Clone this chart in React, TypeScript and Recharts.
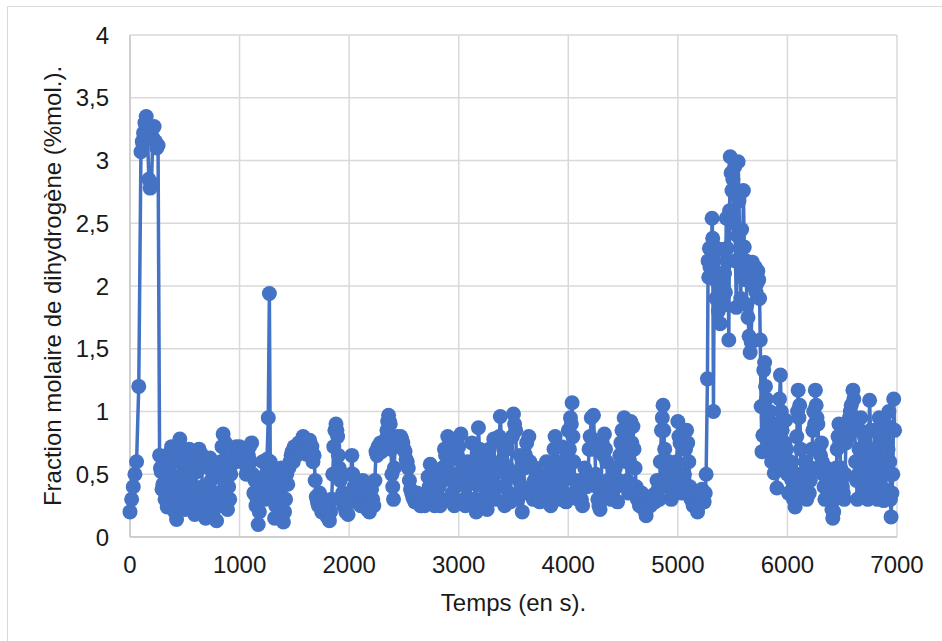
import { LineChart, Line, XAxis, YAxis, CartesianGrid } from 'recharts'

// [time in s, H2 fraction in %mol], one array per stretch of the run
const startup: [number, number][] = [
  [0, 0.2], [15, 0.3], [30, 0.4], [45, 0.5], [60, 0.6], [80, 1.2], [100, 3.07], [112, 3.15],
  [124, 3.22], [136, 3.3], [148, 3.35], [160, 3.2], [172, 2.85], [184, 2.78], [196, 2.82],
  [208, 3.18], [220, 3.27], [232, 3.15], [244, 3.1], [256, 3.12],
]

const seg1: [number, number][] = [
  [270, 0.65], [278, 0.55], [285, 0.52], [292, 0.38], [300, 0.42], [310, 0.6], [320, 0.3],
  [330, 0.45], [340, 0.24], [350, 0.35], [360, 0.55], [370, 0.68], [380, 0.72], [388, 0.6],
  [395, 0.45], [402, 0.3], [410, 0.2], [418, 0.38], [425, 0.14], [432, 0.3], [440, 0.48],
  [448, 0.65], [455, 0.78], [462, 0.7], [470, 0.6], [480, 0.45], [490, 0.35], [500, 0.22],
  [510, 0.3], [520, 0.55], [530, 0.45], [540, 0.7], [550, 0.62], [560, 0.4], [570, 0.3],
  [580, 0.25], [590, 0.18], [600, 0.35], [610, 0.52], [620, 0.6], [630, 0.7], [640, 0.55],
  [650, 0.66], [660, 0.4], [670, 0.26], [680, 0.2], [690, 0.15], [700, 0.3], [710, 0.4],
  [720, 0.55], [730, 0.63], [740, 0.45], [750, 0.55], [760, 0.35], [770, 0.22], [780, 0.3],
  [790, 0.13], [800, 0.25], [810, 0.35], [820, 0.5], [830, 0.6], [840, 0.72], [850, 0.82],
  [860, 0.6], [870, 0.75], [880, 0.45], [890, 0.22], [900, 0.4], [910, 0.3], [920, 0.5],
  [930, 0.58], [940, 0.7], [950, 0.68], [960, 0.6], [970, 0.72], [980, 0.7], [990, 0.65],
]

const seg2: [number, number][] = [
  [1000, 0.72], [1010, 0.7], [1020, 0.6], [1030, 0.62], [1040, 0.7], [1050, 0.68], [1060, 0.5],
  [1070, 0.55], [1080, 0.65], [1090, 0.72], [1100, 0.6], [1110, 0.75], [1120, 0.5], [1130, 0.35],
  [1140, 0.45], [1150, 0.25], [1160, 0.3], [1170, 0.1], [1180, 0.2], [1190, 0.4], [1200, 0.32],
  [1210, 0.6], [1220, 0.45], [1230, 0.3], [1240, 0.5], [1250, 0.62], [1262, 0.95], [1272, 1.94],
  [1280, 0.6], [1285, 0.5], [1292, 0.4], [1300, 0.3], [1310, 0.45], [1320, 0.15], [1330, 0.25],
  [1340, 0.45], [1350, 0.35], [1360, 0.28], [1370, 0.42], [1380, 0.55], [1390, 0.3], [1400, 0.12],
  [1410, 0.2], [1420, 0.3], [1430, 0.5], [1440, 0.42], [1450, 0.55], [1460, 0.6], [1470, 0.65],
  [1480, 0.68], [1490, 0.6], [1500, 0.72], [1510, 0.7], [1520, 0.65], [1530, 0.72], [1540, 0.75],
  [1550, 0.68], [1560, 0.7], [1570, 0.76], [1580, 0.8], [1590, 0.75], [1600, 0.73], [1610, 0.66],
  [1620, 0.68], [1630, 0.72], [1640, 0.77], [1650, 0.7], [1660, 0.72], [1670, 0.6], [1680, 0.65],
  [1690, 0.45], [1700, 0.32], [1710, 0.28], [1720, 0.25], [1730, 0.35], [1740, 0.3], [1750, 0.2],
  [1760, 0.22], [1770, 0.3], [1780, 0.28], [1790, 0.2], [1800, 0.16], [1810, 0.25], [1820, 0.13],
  [1830, 0.2], [1840, 0.3], [1850, 0.5], [1860, 0.72], [1870, 0.85], [1880, 0.9], [1888, 0.85],
  [1895, 0.8], [1902, 0.65], [1910, 0.55], [1920, 0.45], [1930, 0.3], [1940, 0.35], [1950, 0.25],
  [1960, 0.3], [1970, 0.2], [1980, 0.28], [1990, 0.18],
]

const seg3: [number, number][] = [
  [2000, 0.3], [2010, 0.35], [2018, 0.5], [2025, 0.65], [2035, 0.5], [2045, 0.4], [2055, 0.32],
  [2065, 0.28], [2075, 0.4], [2085, 0.35], [2095, 0.3], [2105, 0.25], [2115, 0.35], [2125, 0.45],
  [2135, 0.38], [2145, 0.3], [2155, 0.28], [2165, 0.22], [2175, 0.3], [2185, 0.2], [2195, 0.28],
  [2205, 0.38], [2215, 0.3], [2225, 0.25], [2235, 0.45], [2245, 0.68], [2255, 0.65], [2265, 0.72],
  [2275, 0.7], [2285, 0.75], [2295, 0.68], [2305, 0.7], [2315, 0.75], [2325, 0.72], [2335, 0.78],
  [2345, 0.85], [2352, 0.92], [2360, 0.97], [2368, 0.92], [2375, 0.9], [2382, 0.7], [2390, 0.5],
  [2398, 0.4], [2405, 0.3], [2412, 0.55], [2420, 0.75], [2430, 0.72], [2440, 0.8], [2450, 0.75],
  [2460, 0.72], [2470, 0.8], [2480, 0.78], [2490, 0.75], [2500, 0.7], [2510, 0.68], [2520, 0.62],
  [2530, 0.6], [2540, 0.55], [2550, 0.45], [2560, 0.38], [2570, 0.35], [2580, 0.32], [2590, 0.3],
  [2600, 0.28], [2610, 0.3], [2620, 0.35], [2630, 0.28], [2640, 0.3], [2650, 0.25], [2660, 0.25],
  [2670, 0.3], [2680, 0.32], [2690, 0.25], [2700, 0.27], [2710, 0.35], [2720, 0.48], [2730, 0.4],
  [2740, 0.58], [2750, 0.45], [2760, 0.3], [2770, 0.35], [2780, 0.25], [2790, 0.3], [2800, 0.35],
  [2810, 0.5], [2820, 0.4], [2830, 0.25], [2840, 0.3], [2850, 0.55], [2860, 0.45], [2870, 0.7],
  [2880, 0.65], [2890, 0.5], [2900, 0.8], [2910, 0.6], [2920, 0.75], [2930, 0.5], [2940, 0.35],
  [2950, 0.3], [2960, 0.25], [2970, 0.4], [2980, 0.5], [2990, 0.65],
]

const seg4: [number, number][] = [
  [3000, 0.72], [3010, 0.5], [3020, 0.82], [3030, 0.6], [3040, 0.45], [3050, 0.3], [3060, 0.25],
  [3070, 0.4], [3080, 0.6], [3090, 0.45], [3100, 0.3], [3110, 0.5], [3120, 0.75], [3130, 0.6],
  [3140, 0.5], [3150, 0.3], [3160, 0.2], [3170, 0.6], [3180, 0.87], [3190, 0.7], [3200, 0.65],
  [3210, 0.45], [3220, 0.3], [3230, 0.4], [3240, 0.55], [3250, 0.35], [3260, 0.22], [3270, 0.45],
  [3280, 0.7], [3290, 0.55], [3300, 0.4], [3310, 0.6], [3320, 0.78], [3330, 0.5], [3340, 0.3],
  [3350, 0.4], [3360, 0.55], [3370, 0.8], [3380, 0.96], [3390, 0.75], [3400, 0.6], [3410, 0.4],
  [3420, 0.25], [3430, 0.5], [3440, 0.7], [3450, 0.55], [3460, 0.35], [3470, 0.28], [3480, 0.5],
  [3490, 0.8], [3500, 0.98], [3510, 0.9], [3520, 0.85], [3530, 0.5], [3540, 0.3], [3550, 0.45],
  [3560, 0.65], [3570, 0.4], [3580, 0.2], [3590, 0.35], [3600, 0.55], [3610, 0.65], [3620, 0.75],
  [3630, 0.6], [3640, 0.8], [3650, 0.6], [3660, 0.4], [3670, 0.35], [3680, 0.3], [3690, 0.45],
  [3700, 0.55], [3710, 0.4], [3720, 0.35], [3730, 0.3], [3740, 0.28], [3750, 0.35], [3760, 0.45],
  [3770, 0.38], [3780, 0.3], [3790, 0.4], [3800, 0.6], [3810, 0.5], [3820, 0.38], [3830, 0.3],
  [3840, 0.25], [3850, 0.4], [3860, 0.55], [3870, 0.7], [3880, 0.8], [3890, 0.6], [3900, 0.5],
  [3910, 0.4], [3920, 0.3], [3930, 0.5], [3940, 0.72], [3950, 0.6], [3960, 0.45], [3970, 0.35],
  [3980, 0.28], [3990, 0.5],
]

const seg5: [number, number][] = [
  [4000, 0.85], [4010, 0.7], [4020, 0.95], [4028, 0.9], [4035, 1.07], [4042, 0.8], [4050, 0.6],
  [4060, 0.45], [4070, 0.35], [4080, 0.4], [4090, 0.3], [4100, 0.35], [4110, 0.45], [4120, 0.3],
  [4130, 0.25], [4140, 0.4], [4150, 0.55], [4160, 0.45], [4170, 0.4], [4180, 0.5], [4190, 0.7],
  [4200, 0.8], [4210, 0.95], [4220, 0.7], [4230, 0.97], [4240, 0.75], [4250, 0.5], [4260, 0.4],
  [4270, 0.3], [4280, 0.25], [4290, 0.22], [4300, 0.4], [4310, 0.75], [4320, 0.65], [4330, 0.82],
  [4340, 0.7], [4350, 0.6], [4360, 0.45], [4370, 0.35], [4380, 0.4], [4390, 0.3], [4400, 0.35],
  [4410, 0.42], [4420, 0.5], [4430, 0.55], [4440, 0.4], [4450, 0.28], [4460, 0.45], [4470, 0.65],
  [4480, 0.75], [4490, 0.85], [4500, 0.7], [4510, 0.95], [4520, 0.8], [4530, 0.6], [4540, 0.45],
  [4550, 0.35], [4560, 0.6], [4570, 0.92], [4580, 0.75], [4590, 0.88], [4600, 0.7], [4610, 0.55],
  [4620, 0.4], [4630, 0.3], [4640, 0.35], [4650, 0.25], [4660, 0.3], [4670, 0.35], [4680, 0.28],
  [4690, 0.22], [4700, 0.25], [4710, 0.17], [4720, 0.25], [4730, 0.3], [4740, 0.28], [4750, 0.25],
  [4760, 0.3], [4770, 0.33], [4780, 0.3], [4790, 0.28], [4800, 0.35], [4810, 0.45], [4820, 0.38],
  [4830, 0.3], [4840, 0.6], [4850, 0.85], [4858, 0.95], [4865, 1.05], [4872, 0.85], [4880, 0.7],
  [4890, 0.55], [4900, 0.4], [4910, 0.5], [4920, 0.6], [4930, 0.45], [4940, 0.3], [4950, 0.35],
  [4960, 0.5], [4970, 0.4], [4980, 0.35], [4990, 0.6],
]

const seg6: [number, number][] = [
  [5000, 0.92], [5010, 0.8], [5020, 0.75], [5030, 0.5], [5040, 0.35], [5050, 0.4], [5060, 0.5],
  [5070, 0.7], [5080, 0.85], [5090, 0.75], [5100, 0.6], [5110, 0.4], [5120, 0.3], [5130, 0.35],
  [5140, 0.25], [5150, 0.3], [5160, 0.35], [5170, 0.28], [5180, 0.2], [5190, 0.25], [5200, 0.3],
  [5210, 0.35], [5220, 0.38], [5230, 0.32], [5240, 0.28], [5250, 0.35], [5258, 0.5], [5270, 1.26],
  [5276, 2.2], [5282, 2.07], [5288, 2.3], [5294, 2.15], [5300, 2.29], [5306, 2.1], [5312, 2.54],
  [5318, 2.38], [5325, 1.0], [5332, 2.2], [5340, 2.05], [5348, 1.9], [5355, 2.3], [5362, 2.05],
  [5370, 1.8], [5378, 2.1], [5386, 1.7], [5394, 1.95], [5402, 2.0], [5410, 2.29], [5418, 1.85],
  [5426, 2.1], [5434, 1.95], [5442, 2.54], [5450, 2.3], [5458, 2.2], [5465, 1.57], [5472, 2.6],
  [5478, 3.03], [5486, 2.9], [5494, 2.76], [5502, 2.85], [5510, 2.5], [5518, 2.95], [5526, 2.2],
  [5534, 1.83], [5542, 2.4], [5550, 2.99], [5558, 2.68], [5566, 2.2], [5574, 1.9], [5582, 2.45],
  [5590, 2.1], [5598, 2.76], [5606, 2.31], [5614, 2.05], [5622, 2.2], [5630, 1.85], [5640, 1.75],
  [5650, 1.6], [5660, 1.47], [5670, 1.55], [5680, 2.19], [5690, 2.0], [5698, 2.1], [5706, 2.15],
  [5714, 1.95], [5722, 2.02], [5730, 2.12], [5738, 2.05], [5746, 1.9], [5752, 1.57], [5760, 1.04],
  [5768, 0.68], [5776, 0.81], [5784, 1.33], [5792, 1.39], [5800, 1.2], [5808, 1.1], [5816, 0.95],
  [5824, 0.75], [5832, 0.9], [5840, 1.0], [5848, 0.8], [5856, 0.6], [5864, 0.85], [5872, 0.7],
  [5880, 0.51], [5888, 0.9], [5896, 0.6], [5904, 0.39], [5912, 0.7], [5920, 0.9], [5928, 1.1],
  [5936, 1.29], [5944, 1.0], [5952, 0.85], [5960, 0.55], [5968, 0.65], [5976, 0.75], [5984, 0.93],
  [5992, 0.7], [6000, 0.5],
]

const seg7: [number, number][] = [
  [6010, 0.35], [6018, 0.5], [6025, 0.6], [6032, 0.55], [6040, 0.45], [6048, 0.35], [6055, 0.3],
  [6062, 0.4], [6070, 0.24], [6078, 0.5], [6085, 0.8], [6092, 1.0], [6098, 1.17], [6105, 0.95],
  [6112, 1.05], [6120, 0.7], [6128, 0.5], [6136, 0.4], [6144, 0.35], [6152, 0.5], [6160, 0.6],
  [6168, 0.45], [6176, 0.3], [6184, 0.45], [6192, 0.5], [6200, 0.35], [6208, 0.45], [6216, 0.55],
  [6224, 0.7], [6232, 0.85], [6240, 1.0], [6248, 0.9], [6255, 1.17], [6262, 1.05], [6270, 0.95],
  [6278, 0.9], [6286, 0.7], [6294, 0.55], [6302, 0.65], [6310, 0.75], [6318, 0.6], [6326, 0.5],
  [6334, 0.4], [6342, 0.3], [6350, 0.4], [6358, 0.55], [6366, 0.45], [6374, 0.35], [6382, 0.4],
  [6390, 0.45], [6398, 0.3], [6406, 0.22], [6414, 0.15], [6422, 0.2], [6430, 0.3], [6438, 0.45],
  [6446, 0.55], [6454, 0.7], [6462, 0.8], [6470, 0.9], [6478, 0.75], [6486, 0.55], [6494, 0.45],
  [6502, 0.4], [6510, 0.35], [6518, 0.3], [6526, 0.5], [6534, 0.75], [6542, 0.85], [6550, 0.9],
  [6558, 0.8], [6566, 0.95], [6574, 1.0], [6582, 1.05], [6590, 0.9], [6598, 1.17], [6606, 1.1],
  [6614, 0.9], [6622, 0.6], [6630, 0.45], [6638, 0.3], [6646, 0.5], [6654, 0.7], [6662, 0.85],
  [6670, 0.95], [6678, 0.6], [6686, 0.35], [6694, 0.55], [6702, 0.8], [6710, 0.65], [6718, 0.5],
  [6726, 0.4], [6734, 0.3], [6742, 0.7], [6750, 1.09], [6758, 0.85], [6766, 0.6], [6774, 0.4],
  [6782, 0.35], [6790, 0.6], [6798, 0.85], [6806, 0.7], [6814, 0.45], [6822, 0.3], [6830, 0.5],
  [6838, 0.95], [6846, 0.8], [6854, 0.6], [6862, 0.4], [6870, 0.35], [6878, 0.29], [6886, 0.6],
  [6894, 0.9], [6902, 0.75], [6910, 0.5], [6918, 0.7], [6926, 1.0], [6934, 0.6], [6940, 0.3],
  [6946, 0.16], [6954, 0.35], [6962, 0.5], [6970, 1.1], [6978, 0.85],
]

const xTicks = [0, 1000, 2000, 3000, 4000, 5000, 6000, 7000]
const yTicks = [0, 0.5, 1, 1.5, 2, 2.5, 3, 3.5, 4]

const data = [...startup, ...seg1, ...seg2, ...seg3, ...seg4, ...seg5, ...seg6, ...seg7].map(([t, y]) => ({ t, y }))

const blue = '#4472C4'
const grid = '#d9d9d9'
const tick = { fill: '#1a1a1a', fontSize: 24 }

export default function App() {
  return (
    <div
      style={{
        position: 'absolute',
        left: 0,
        top: 0,
        width: 942,
        height: 641,
        background: '#fff',
        fontFamily: '"Liberation Sans", Arial, sans-serif',
      }}
    >
      <div
        style={{
          position: 'absolute',
          left: 7,
          top: 6,
          width: 940,
          height: 640,
          border: `1px solid ${grid}`,
        }}
      />
      <LineChart
        width={942}
        height={641}
        data={data}
        margin={{ top: 35, right: 45, bottom: 0, left: 0 }}
        style={{ position: 'absolute', left: 0, top: 0 }}
      >
        <CartesianGrid stroke={grid} strokeWidth={1.5} />
        <XAxis
          dataKey="t"
          type="number"
          domain={[0, 7000]}
          ticks={xTicks}
          height={104}
          tick={tick}
          tickLine={false}
          tickMargin={13}
          axisLine={{ stroke: '#cfcfcf', strokeWidth: 2 }}
          label={{ value: 'Temps (en s).', position: 'insideBottom', offset: 30, fill: '#1a1a1a', fontSize: 24 }}
        />
        <YAxis
          type="number"
          domain={[0, 4]}
          ticks={yTicks}
          width={130}
          tick={tick}
          tickLine={false}
          tickMargin={15}
          axisLine={{ stroke: '#cfcfcf', strokeWidth: 2 }}
          tickFormatter={v => String(v).replace('.', ',')}
          label={{
            value: 'Fraction molaire de dihydrogène (%mol.).',
            angle: -90,
            position: 'insideLeft',
            offset: 52,
            fill: '#1a1a1a',
            fontSize: 24,
            style: { textAnchor: 'middle' },
          }}
        />
        <Line
          dataKey="y"
          type="linear"
          stroke={blue}
          strokeWidth={3.5}
          dot={{ r: 7.5, fill: blue, stroke: blue, strokeWidth: 0 }}
          activeDot={false}
          isAnimationActive={false}
        />
      </LineChart>
    </div>
  )
}
